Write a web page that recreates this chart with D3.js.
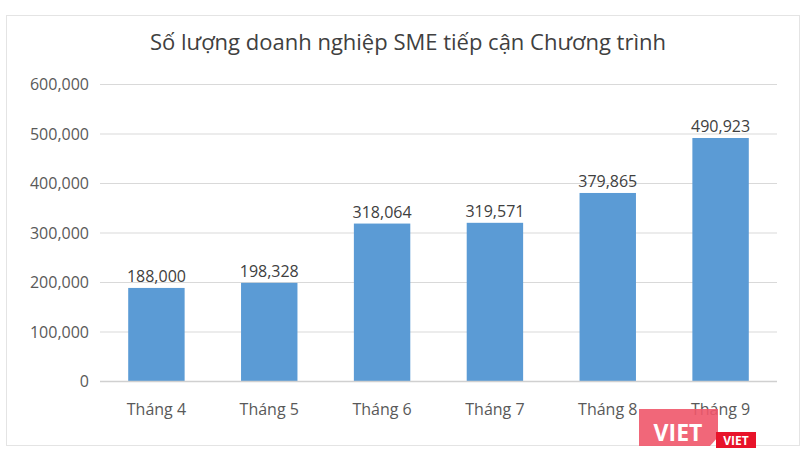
<!DOCTYPE html>
<html><head><meta charset="utf-8">
<script src="https://cdn.jsdelivr.net/npm/d3@7"></script>
<style>body{margin:0;background:#fff;} text{font-family:"Open Sans",sans-serif;}</style>
</head><body>
<svg id="c" width="810" height="458"></svg>
<script>
const categories = ["Tháng 4","Tháng 5","Tháng 6","Tháng 7","Tháng 8","Tháng 9"];
const values = [188000,198328,318064,319571,379865,490923];
const yTicks = [0,100000,200000,300000,400000,500000,600000];
const title = "Số lượng doanh nghiệp SME tiếp cận Chương trình";

const svg = d3.select("#c");
svg.append("rect").attr("x",6.5).attr("y",15.5).attr("width",793).attr("height",430)
  .attr("fill","#fff").attr("stroke","#e4e4e4");
const m = {l:100, r:777, t:84, b:381};
const x = d3.scaleBand().domain(categories).range([m.l,m.r]).paddingInner(0.5).paddingOuter(0.25);
const y = d3.scaleLinear().domain([0,600000]).range([m.b,m.t]);
const fmt = d3.format(",");

svg.append("g").selectAll("line").data(yTicks.filter(d=>d>0)).join("line")
  .attr("x1",m.l).attr("x2",m.r).attr("y1",d=>y(d)+0.5).attr("y2",d=>y(d)+0.5)
  .attr("stroke","#d9d9d9").attr("stroke-width",1);
svg.append("g").selectAll("text").data(yTicks).join("text")
  .attr("x",89).attr("y",d=>y(d)+6).attr("text-anchor","end")
  .attr("font-size",16).attr("fill","#595959").text(d=>fmt(d));

svg.append("g").selectAll("rect").data(values).join("rect")
  .attr("x",(d,i)=>x(categories[i])).attr("width",x.bandwidth())
  .attr("y",d=>y(d)).attr("height",d=>y(0)-y(d)).attr("fill","#5b9bd5");
svg.append("g").selectAll("text").data(values).join("text")
  .attr("x",(d,i)=>x(categories[i])+x.bandwidth()/2).attr("y",d=>y(d)-6)
  .attr("text-anchor","middle").attr("font-size",16).attr("fill","#404040").text(d=>fmt(d));

svg.append("line").attr("x1",m.l).attr("x2",m.r).attr("y1",y(0)+0.5).attr("y2",y(0)+0.5)
  .attr("stroke","#d0d0d0").attr("stroke-width",1.5);
svg.append("g").selectAll("text").data(categories).join("text")
  .attr("x",d=>x(d)+x.bandwidth()/2).attr("y",415).attr("text-anchor","middle")
  .attr("font-size",16).attr("fill","#595959").text(d=>d);

svg.append("text").attr("x",408).attr("y",50).attr("text-anchor","middle")
  .attr("font-size",22).attr("fill","#404040").text(title);

// watermark
const wm = svg.append("g");
wm.append("path").attr("d","M639,409 L718,409 L718,437 L710,446 L639,446 Z").attr("fill","#f0566a").attr("opacity",0.9);
wm.append("text").attr("x",678).attr("y",441).attr("text-anchor","middle").attr("font-size",23)
  .attr("font-weight","bold").attr("fill","#fff").attr("font-family","Liberation Sans, sans-serif").text("VIET");
wm.append("rect").attr("x",716).attr("y",432).attr("width",40).attr("height",16).attr("fill","#e8132a");
wm.append("text").attr("x",736).attr("y",445).attr("text-anchor","middle").attr("font-size",12)
  .attr("font-weight","bold").attr("fill","#fff").attr("font-family","Liberation Sans, sans-serif").text("VIET");
</script>
</body></html>
